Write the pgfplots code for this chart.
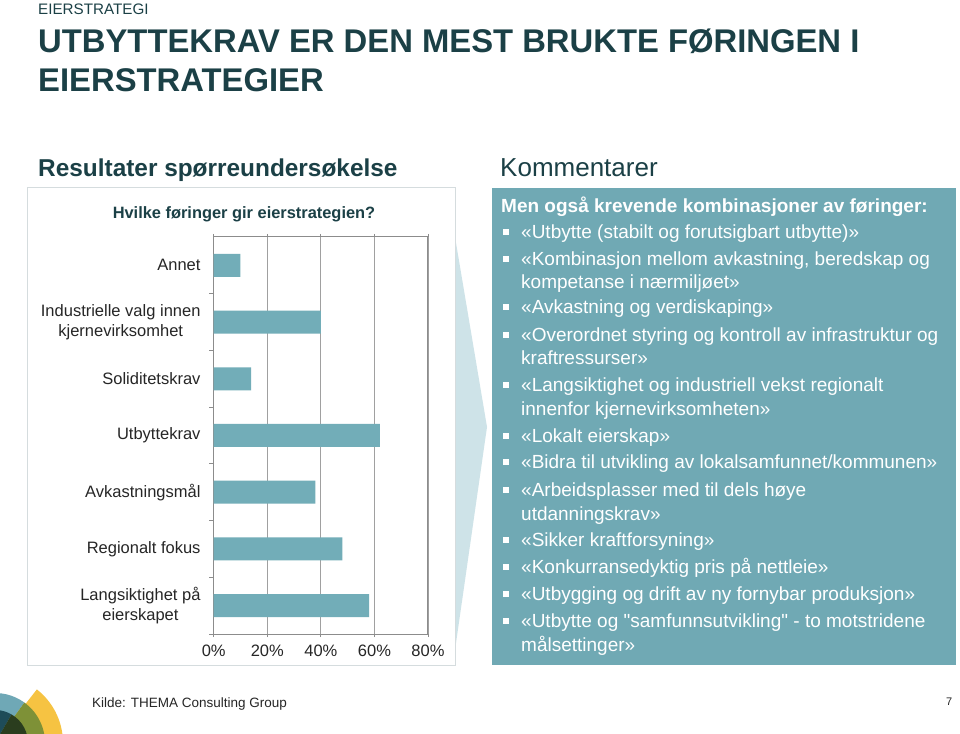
\documentclass[border=0pt]{standalone}
\usepackage{fontspec}
\setmainfont{Liberation Sans}
\usepackage{pgfplots}
\pgfplotsset{compat=1.18}
\usetikzlibrary{backgrounds}
\definecolor{titlec}{RGB}{27,64,70}
\definecolor{barc}{RGB}{114,173,184}
\definecolor{panelc}{RGB}{112,169,180}
\definecolor{chevc}{RGB}{206,227,232}
\definecolor{boxc}{RGB}{213,220,222}
\definecolor{gridc}{RGB}{160,160,160}
\definecolor{axisc}{RGB}{140,140,140}
\definecolor{txtc}{RGB}{38,38,38}
\definecolor{yellowc}{RGB}{246,195,66}
\definecolor{olivec}{RGB}{126,145,55}
\definecolor{tealc}{RGB}{111,168,182}
\definecolor{dtealc}{RGB}{30,76,88}
\definecolor{dgreenc}{RGB}{42,61,30}
\begin{document}
\begin{tikzpicture}[x=1pt,y=1pt]
% chart
\begin{axis}[
  scale only axis,
  width=214.3pt, height=397pt,
  xbar, bar width=23pt,
  xmin=0, xmax=80, ymin=-0.5, ymax=6.5,
  xtick={0,20,40,60,80},
  xticklabel={\pgfmathprintnumber{\tick}\%},
  /pgf/number format/assume math mode=true,
  ytick={0,1,2,3,4,5,6},
  yticklabels={{Langsiktighet på\\eierskapet},{Regionalt fokus},{Avkastningsmål},{Utbyttekrav},{Soliditetskrav},{Industrielle valg innen\\kjernevirksomhet},{Annet}},
  ytick style={draw=none},
  xtick style={draw=axisc, line width=0.8pt},
  tick align=outside, major tick length=3pt,
  tick label style={font=\fontsize{16.5}{19.5}\selectfont, text=txtc, inner sep=0pt},
  yticklabel style={align=center, xshift=-10pt},
  xticklabel style={yshift=-8pt},
  xmajorgrids, grid style={gridc, line width=0.8pt},
  axis line style={axisc, line width=1pt},
  clip=false,
]
\addplot[fill=barc, draw=none] coordinates {(58,0) (48,1) (38,2) (62,3) (14,4) (40,5) (10,6)};
\draw[axisc, line width=0.8pt] (axis cs:0,0.5) -- ++(-4.5pt,0pt);
\draw[axisc, line width=0.8pt] (axis cs:0,1.5) -- ++(-4.5pt,0pt);
\draw[axisc, line width=0.8pt] (axis cs:0,2.5) -- ++(-4.5pt,0pt);
\draw[axisc, line width=0.8pt] (axis cs:0,3.5) -- ++(-4.5pt,0pt);
\draw[axisc, line width=0.8pt] (axis cs:0,4.5) -- ++(-4.5pt,0pt);
\draw[axisc, line width=0.8pt] (axis cs:0,5.5) -- ++(-4.5pt,0pt);
\draw[axisc, line width=0.8pt] (axis cs:0,-0.5) -- ++(-4.5pt,0pt);
\coordinate (O) at (axis cs:0,-0.5);
\end{axis}
\begin{scope}[shift={(O)}, xshift=-213.7pt, yshift=-99pt]
\begin{scope}[on background layer]
\fill[white] (0,0) rectangle (960,733);
\end{scope}
% header
\node[anchor=base west, inner sep=0, text=titlec, font=\fontsize{15.2}{17}\selectfont] at (38,718) {EIERSTRATEGI};
\node[anchor=base west, inner sep=0, text=titlec, font=\fontsize{32.8}{38}\selectfont\bfseries] at (38,680) {UTBYTTEKRAV ER DEN MEST BRUKTE FØRINGEN I};
\node[anchor=base west, inner sep=0, text=titlec, font=\fontsize{32.8}{38}\selectfont\bfseries] at (38,641) {EIERSTRATEGIER};
\node[anchor=base west, inner sep=0, text=titlec, font=\fontsize{24.4}{28}\selectfont\bfseries] at (38,556) {Resultater spørreundersøkelse};
\node[anchor=base west, inner sep=0, text=titlec, font=\fontsize{26}{30}\selectfont] at (500,556) {Kommentarer};
% chevron and boxes
\fill[chevc] (455,496) -- (487,306) -- (455,83) -- cycle;
\draw[boxc, line width=1pt] (28,68) rectangle (455,545);
\fill[panelc] (492,68) rectangle (956,545);
% chart title
\node[anchor=base, inner sep=0, text=titlec, font=\fontsize{16.4}{19}\selectfont\bfseries] at (244,514) {Hvilke føringer gir eierstrategien?};
% right panel text
\begin{scope}[every node/.style={anchor=base west, inner sep=0, text=white, font=\fontsize{19}{22}\selectfont}]
\node[font=\fontsize{19}{22}\selectfont\bfseries] at (501,520) {Men også krevende kombinasjoner av føringer:};
\node at (521,494) {«Utbytte (stabilt og forutsigbart utbytte)»};
\node at (521,467) {«Kombinasjon mellom avkastning, beredskap og};
\node at (521,444) {kompetanse i nærmiljøet»};
\node at (521,419) {«Avkastning og verdiskaping»};
\node at (521,391) {«Overordnet styring og kontroll av infrastruktur og};
\node at (521,368) {kraftressurser»};
\node at (521,341) {«Langsiktighet og industriell vekst regionalt};
\node at (521,317) {innenfor kjernevirksomheten»};
\node at (521,290) {«Lokalt eierskap»};
\node at (521,264) {«Bidra til utvikling av lokalsamfunnet/kommunen»};
\node at (521,236) {«Arbeidsplasser med til dels høye};
\node at (521,212) {utdanningskrav»};
\node at (521,186) {«Sikker kraftforsyning»};
\node at (521,159) {«Konkurransedyktig pris på nettleie»};
\node at (521,132) {«Utbygging og drift av ny fornybar produksjon»};
\node at (521,105) {«Utbytte og \textquotedbl samfunnsutvikling\textquotedbl{} - to motstridene};
\node at (521,82) {målsettinger»};
\end{scope}
\foreach \yb in {494,467,419,391,341,290,264,236,186,159,132,105}{
  \fill[white] (503,\yb+4) rectangle (509,\yb+10);
}
% footer
\node[anchor=base west, inner sep=0, text=txtc, font=\fontsize{13.5}{16}\selectfont] at (92,26) {Kilde: THEMA Consulting Group};
\node[anchor=base west, inner sep=0, text=txtc, font=\fontsize{11}{13}\selectfont] at (946,28) {7};
% logo
\begin{scope}[overlay]
\clip (0,0) rectangle (960,733);
\begin{scope}[shift={(-5,-10)}]
\fill[yellowc] (3:68) arc[start angle=3, end angle=52, radius=68] -- (52:49) arc[start angle=52, end angle=3, radius=49] -- cycle;
\fill[tealc] (0,0) -- (54:50) arc[start angle=54, end angle=180, radius=50] -- cycle;
\fill[olivec] (0,0) -- (-5:50) arc[start angle=-5, end angle=54, radius=50] -- cycle;
\fill[dtealc] (0,0) -- (60:33) arc[start angle=60, end angle=180, radius=33] -- cycle;
\fill[dgreenc] (0,0) -- (-5:33) arc[start angle=-5, end angle=60, radius=33] -- cycle;
\end{scope}
\end{scope}
\end{scope}
\end{tikzpicture}
\end{document}
